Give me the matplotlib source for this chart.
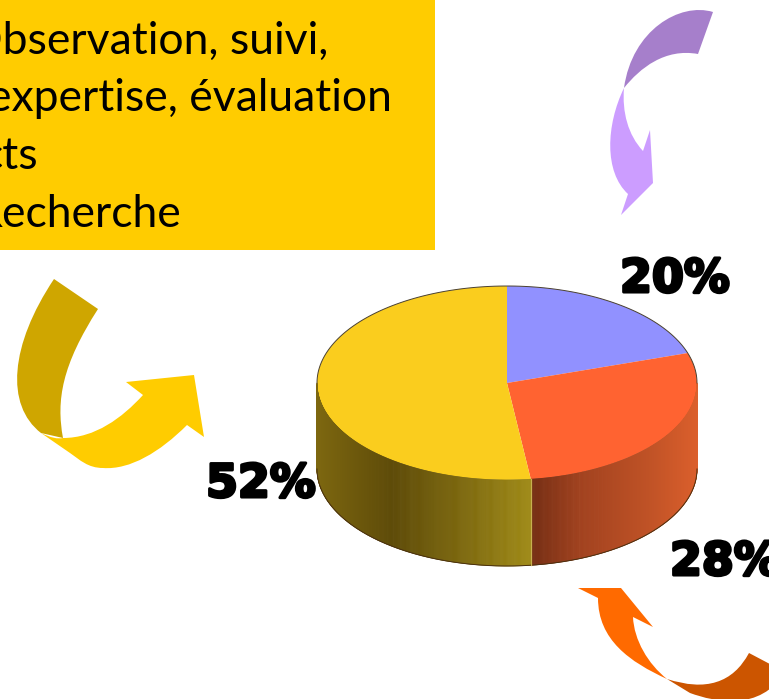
import numpy as np
import matplotlib
matplotlib.use("Agg")
import matplotlib.pyplot as plt
import matplotlib.patheffects as pe
from matplotlib.collections import PolyCollection
from matplotlib.colors import to_rgb
from matplotlib.patches import PathPatch, Rectangle
from matplotlib.path import Path

# data
shares = [20, 28, 52]
share_labels = ["20%", "28%", "52%"]
slice_colors = ["#9191FF", "#FF6331", "#FACD1E"]
text_lines = ["Observation, suivi,", "expertise, évaluation", "cts", "Recherche"]

W, H = 769, 699
CX, CY, RX, RY, DEPTH = 507, 383, 190, 97, 86

fig = plt.figure(figsize=(W / 100, H / 100), dpi=100, facecolor="white")

# pie axes: a unit pie stretched into an ellipse
ax = fig.add_axes([0, 0, 1, 1])
ax.pie(shares, colors=slice_colors, startangle=90, counterclock=False,
       radius=1, wedgeprops={"linewidth": 0})
ax.set_aspect("auto")
ax.set_xlim(-CX / RX, (W - CX) / RX)
ax.set_ylim((CY - H) / RY, CY / RY)
ax.axis("off")

# side wall, only the front half shows
d = DEPTH / RY
seam_deg = 90 - (shares[0] + shares[1]) * 3.6
walls = [
    (0, seam_deg, [0.0, 0.3, 0.7, 1.0], ["#742D12", "#A2421F", "#BF5226", "#DB5F2C"]),
    (seam_deg, -180, [0.0, 0.35, 0.7, 1.0], ["#7D6710", "#5E4B08", "#7F6A0E", "#9F8A16"]),
]
for a0, a1, pos, cols in walls:
    t = np.radians(np.linspace(a0, a1, 300))
    xs, ys = np.cos(t), np.sin(t)
    quads = [[(xs[k], ys[k]), (xs[k + 1], ys[k + 1]),
              (xs[k + 1], ys[k + 1] - d), (xs[k], ys[k] - d)] for k in range(len(t) - 1)]
    u = (xs[:-1] - xs.min()) / (xs.max() - xs.min())
    rgb = np.array([to_rgb(c) for c in cols])
    face = np.column_stack([np.interp(u, pos, rgb[:, j]) for j in range(3)])
    ax.add_collection(PolyCollection(quads, facecolors=face, edgecolors=face, linewidths=0.5))
    ax.plot(xs, ys - d, color="#4A3010", lw=0.7)

# seam on the wall and the dark rim at the back
seam = np.radians(seam_deg)
ax.plot([np.cos(seam)] * 2, [np.sin(seam), np.sin(seam) - d], color="#C9B050", lw=0.9)
rim = np.radians(np.linspace(0, 180, 120))
ax.plot(np.cos(rim), np.sin(rim), color="#4A4030", lw=0.7)

# pixel axes for the box, arrows and labels
px = fig.add_axes([0, 0, 1, 1], facecolor="none")
px.set_xlim(0, W)
px.set_ylim(H, 0)
px.axis("off")

px.add_patch(Rectangle((0, 0), 435, 250, facecolor="#FFCC00", edgecolor="none"))

M, L, Q, C, Z = Path.MOVETO, Path.LINETO, Path.CURVE3, Path.CURVE4, Path.CLOSEPOLY


def shape(steps, color):
    verts, codes = [], []
    for code, *pts in steps:
        verts += pts
        codes += [code] * len(pts)
    verts.append(verts[0])
    codes.append(Z)
    px.add_patch(PathPatch(Path(verts, codes), facecolor=color, edgecolor="none"))


# yellow arrow
shape([(M, (54, 279)), (L, (98, 309)), (C, (62, 365), (56, 400), (63, 438)),
       (L, (41, 433)), (C, (5, 405), (10, 345), (54, 279))], "#CFA600")
shape([(M, (41, 433)), (Q, (55, 440), (63, 438)), (C, (95, 438), (122, 418), (143, 395)),
       (L, (126, 382)), (L, (194, 375)), (L, (204, 437)), (L, (187, 425)),
       (C, (160, 452), (130, 470), (103, 468)), (C, (88, 468), (80, 460), (70, 453))], "#FFCC00")

# purple arrow
shape([(M, (713, 12)), (L, (698, 54)), (C, (665, 48), (640, 68), (624, 88)),
       (C, (632, 30), (680, 2), (713, 12))], "#A67FCB")
shape([(M, (624, 88)), (C, (622, 112), (628, 135), (643, 151)), (L, (650, 130)),
       (L, (653, 183)), (L, (621, 215)), (L, (628, 194)),
       (C, (604, 172), (606, 125), (624, 88))], "#CC9DFF")

# orange arrow
shape([(M, (667, 679)), (Q, (725, 698), (749, 653)), (L, (785, 672)),
       (C, (760, 712), (715, 702), (690, 693))], "#CC5500")
shape([(M, (578, 588)), (L, (621, 588)), (L, (653, 627)), (L, (633, 617)),
       (C, (634, 640), (648, 664), (667, 679)), (C, (630, 662), (598, 640), (598, 598))], "#FF6A00")

# box text, right aligned so that the left edge is cut as in the slide
text_right = [328, 392, 38, 182]
text_base = [54, 111, 169, 227]
for line, xr, yb in zip(text_lines, text_right, text_base):
    px.text(xr, yb, line, ha="right", va="baseline", fontsize=32,
            family="Lato", color="black")

# share labels
stroke = [pe.withStroke(linewidth=2.2, foreground="black")]
label_kw = dict(va="baseline", fontsize=33, family="DejaVu Sans", weight="bold",
                path_effects=stroke)
px.text(675, 292, share_labels[0], ha="center", **label_kw)
px.text(670, 575, share_labels[1], ha="left", **label_kw)
px.text(261, 497, share_labels[2], ha="center", **label_kw)

fig.savefig("out.png", dpi=100)
